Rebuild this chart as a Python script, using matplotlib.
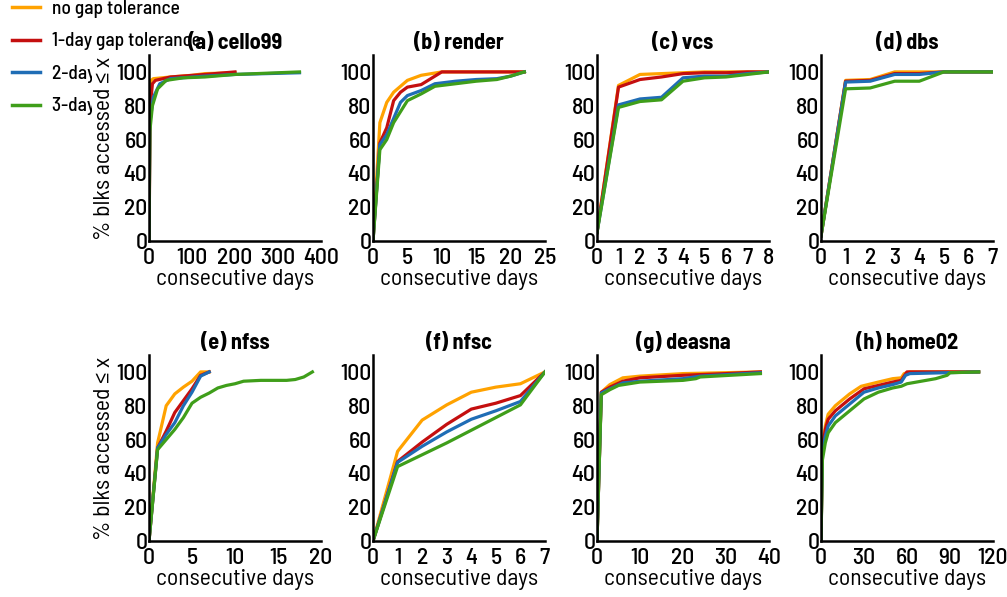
import matplotlib.pyplot as plt
from matplotlib.lines import Line2D
from matplotlib.patches import Rectangle

plt.rcParams['font.family'] = ['Barlow Semi Condensed', 'DejaVu Sans']
plt.rcParams['font.weight'] = 'medium'

series_names = ["no gap tolerance", "1-day gap tolerance", "2-day gap tolerance", "3-day gap tolerance"]
colors = ["#FFA200", "#C40F0F", "#1F6DB5", "#3F9E1A"]

titles = ["(a) cello99", "(b) render", "(c) vcs", "(d) dbs",
          "(e) nfss", "(f) nfsc", "(g) deasna", "(h) home02"]
xticks = [[0, 100, 200, 300, 400], [0, 5, 10, 15, 20, 25], list(range(9)), list(range(8)),
          [0, 5, 10, 15, 20], list(range(8)), [0, 10, 20, 30, 40], [0, 30, 60, 90, 120]]

# (a) cello99
a_x = [[0, 2, 5, 10, 50, 100, 130, 200],
       [0, 3, 8, 15, 50, 130, 200],
       [0, 2, 10, 25, 50, 130, 200, 350],
       [0, 2, 8, 20, 40, 80, 130, 200, 350]]
a_y = [[0, 90, 95, 96, 97, 98, 99, 99.5],
       [0, 80, 93, 95, 97, 98.5, 100],
       [0, 70, 85, 93, 96, 97.5, 98.5, 99.5],
       [0, 65, 80, 90, 95, 96.5, 97, 98.5, 100]]
# (b) render
b_x = [[0, 1, 2, 3, 5, 7, 10, 22],
       [0, 1, 2, 3, 4, 5, 7, 8, 9, 10, 22],
       [0, 1, 2, 4, 5, 7, 9, 12, 15, 18, 20, 22],
       [0, 1, 2, 3, 5, 7, 9, 12, 15, 18, 20, 22]]
b_y = [[0, 70, 82, 88, 95, 98, 100, 100],
       [0, 58, 67, 83, 88, 91, 92.5, 95, 97.5, 100, 100],
       [0, 57, 63, 82, 86, 89, 93, 94.5, 95.5, 96, 97.5, 100],
       [0, 54, 60, 70, 83, 87, 91.5, 93, 94.5, 95.5, 97.5, 100]]
# (c) vcs
c_x = [list(range(9))] * 4
c_y = [[5, 92, 98.5, 99, 99.5, 100, 100, 100, 100],
       [5, 91, 95.5, 97, 99, 99.5, 99.5, 100, 100],
       [5, 80.5, 84, 85, 96.5, 97.5, 97.5, 99, 100],
       [5, 79, 82.5, 83.5, 94.5, 96.5, 97, 98.5, 100]]
# (d) dbs
d_x = [list(range(8))] * 4
d_y = [[3, 95, 95.5, 100, 100, 100, 100, 100],
       [3, 94.5, 95, 99, 99, 100, 100, 100],
       [3, 94, 94.5, 98.5, 98.5, 100, 100, 100],
       [3, 90, 90.5, 94.5, 94.5, 100, 100, 100]]
# (e) nfss
e_x = [list(range(8)), list(range(8)), list(range(8)),
       [0, 1, 2, 3, 4, 5, 6, 7, 8, 9, 10, 11, 13, 16, 17, 18, 19]]
e_y = [[0, 58, 80, 87, 91, 94.5, 100, 100],
       [0, 55, 65, 76, 83, 90, 98, 100],
       [0, 55, 63, 70, 80, 88, 97.5, 100],
       [0, 54, 60, 66, 73, 81.5, 85, 87.5, 90.5, 92, 93, 94.5, 95, 95, 95.5, 97, 100]]
# (f) nfsc
f_x = [list(range(8))] * 4
f_y = [[0, 53, 71.5, 80.5, 88, 91, 93, 100],
       [0, 47, 58.5, 69, 78, 81.5, 86, 100],
       [0, 46.5, 56, 64.5, 72, 77, 82.5, 100],
       [0, 44, 51, 58, 65.5, 73, 80.5, 100]]
# (g) deasna
g_x = [[0, 1, 3, 6, 10, 20, 38],
       [0, 1, 3, 6, 10, 20, 30, 38],
       [0, 1, 3, 6, 10, 20, 24, 38],
       [0, 1, 3, 5, 10, 20, 23, 24, 38]]
g_y = [[0, 88, 92.5, 96.5, 97.5, 99, 100],
       [0, 88, 91, 94.5, 96.5, 98, 99, 100],
       [0, 87.5, 90, 93.5, 94.5, 96, 97.5, 99.5],
       [0, 86.5, 89.5, 92, 94, 95, 96, 97, 99]]
# (h) home02
h_x = [[0, 1, 3, 5, 10, 20, 28, 40, 50, 56, 58, 62, 110],
       [0, 1, 3, 5, 10, 20, 30, 40, 50, 56, 60, 110],
       [0, 1, 3, 5, 10, 20, 30, 40, 50, 56, 59, 62, 110],
       [0, 1, 3, 5, 10, 20, 30, 40, 50, 56, 60, 80, 88, 90, 110]]
h_y = [[0, 55, 68, 75, 80, 87, 91.5, 94, 96, 96.5, 99, 100, 100],
       [0, 55, 66, 72, 77, 84, 90, 92, 94, 95, 100, 100],
       [0, 52, 62, 68, 74, 81, 88, 90.5, 92.5, 94, 98, 99, 100],
       [0, 48, 58, 64, 70, 77, 84, 88, 90.5, 91.5, 93, 96, 98, 99.5, 100]]

all_x = [a_x, b_x, c_x, d_x, e_x, f_x, g_x, h_x]
all_y = [a_y, b_y, c_y, d_y, e_y, f_y, g_y, h_y]

fig = plt.figure(figsize=(10.07, 5.97), dpi=100)
W, H = 1007, 597
lefts = [149, 373, 597, 821]
tops = [55, 355]
aw, ah = 172, 186

for i in range(8):
    r, c = divmod(i, 4)
    ax = fig.add_axes([lefts[c] / W, 1 - (tops[r] + ah) / H, aw / W, ah / H])
    for k in range(4):
        ax.plot(all_x[i][k], all_y[i][k], color=colors[k], lw=2.3, solid_joinstyle='round')
    ax.set_xlim(xticks[i][0], xticks[i][-1])
    ax.set_ylim(0, 110)
    ax.set_xticks(xticks[i])
    ax.set_yticks([0, 20, 40, 60, 80, 100])
    ax.tick_params(axis='x', length=0, pad=5, labelsize=17)
    ax.tick_params(axis='y', length=0, pad=1, labelsize=17)
    for s in ["top", "right"]:
        ax.spines[s].set_visible(False)
    for s in ["left", "bottom"]:
        ax.spines[s].set_linewidth(1.8)
    ax.set_title(titles[i], fontsize=16, fontweight='bold', pad=4)
    ax.set_xlabel("consecutive days", fontsize=17, labelpad=1)
    if c == 0:
        ax.set_ylabel("% blks accessed \u2264 x", fontsize=17, labelpad=1)

# white area of the first panel's label column that hides the legend's tail
fig.patches.append(Rectangle((92 / W, 1 - 250 / H), 57 / W, 192 / H, transform=fig.transFigure,
                             facecolor='white', edgecolor='none', zorder=-0.5))

handles = [Line2D([], [], color=col, lw=2.5) for col in colors]
leg = fig.legend(handles, series_names, loc='upper left', bbox_to_anchor=(0.0, 1.02),
                 frameon=False, fontsize=14, handlelength=1.45, labelspacing=0.75,
                 handletextpad=0.6, borderaxespad=0.2)
leg.set_zorder(-1)

plt.savefig("out.png", dpi=100)
